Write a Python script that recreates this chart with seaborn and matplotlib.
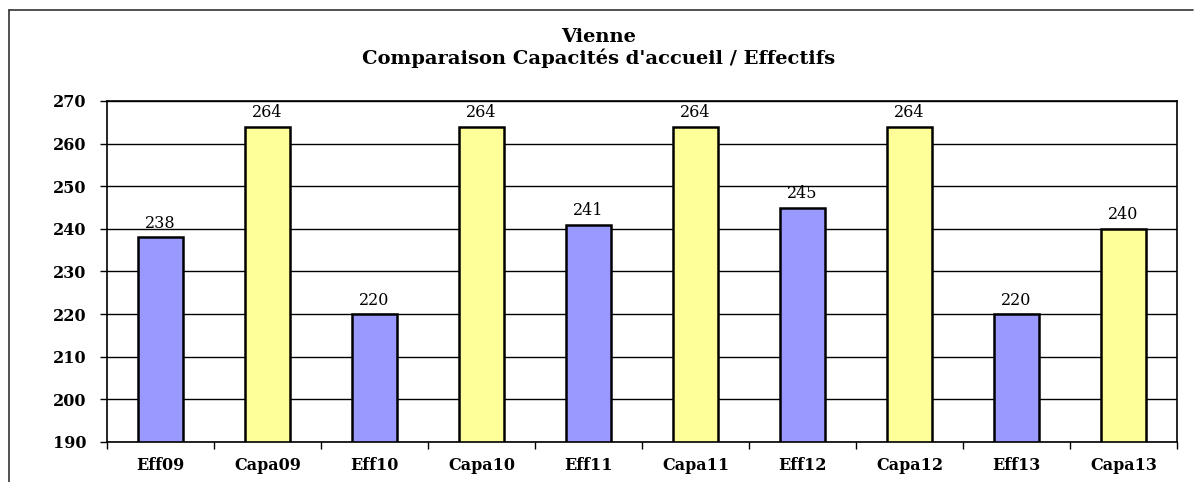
import pandas as pd
import matplotlib.pyplot as plt
import seaborn as sns
from matplotlib.lines import Line2D

# données
categories = ["Eff09", "Capa09", "Eff10", "Capa10", "Eff11", "Capa11", "Eff12", "Capa12", "Eff13", "Capa13"]
values = [238, 264, 220, 264, 241, 264, 245, 264, 220, 240]
kinds = ["Effectif", "Capacité"] * 5

df = pd.DataFrame({"cat": categories, "val": values, "kind": kinds})

sns.set_style("white")
plt.rcParams['font.family'] = ['DejaVu Serif', 'Liberation Serif']
plt.rcParams['text.color'] = 'black'
plt.rcParams['xtick.color'] = 'black'
plt.rcParams['ytick.color'] = 'black'

fig = plt.figure(figsize=(11.97, 4.82), dpi=100)
ax = fig.add_axes([107 / 1197, 40 / 482, 1070 / 1197, 341 / 482])

sns.barplot(data=df, x="cat", y="val", hue="kind", dodge=False, saturation=1,
            palette={"Effectif": "#9999FF", "Capacité": "#FFFF99"},
            edgecolor="black", linewidth=1.8, width=0.42, legend=False, ax=ax)

ax.set_ylim(190, 270)
ax.set_yticks(range(190, 271, 10))
ax.set_xlim(-0.5, 9.5)
ax.grid(axis="y", color="black", linewidth=1)
ax.set_axisbelow(True)
for s in ax.spines.values():
    s.set_color("black")
    s.set_linewidth(1.2)

# étiquettes de valeurs
for i, v in enumerate(values):
    ax.text(i, v + 1.3, str(v), ha="center", va="bottom", fontsize=11.5)

ax.set_xlabel("")
ax.set_ylabel("")
ax.tick_params(axis="y", left=True, length=5, width=1, pad=10, labelsize=11.5)
ax.set_xticks([x + 0.5 for x in range(-1, 10)], minor=True)
ax.tick_params(axis="x", which="major", bottom=False, length=0, pad=11, labelsize=11.5)
ax.tick_params(axis="x", which="minor", bottom=True, length=5, width=1)
for lab in ax.get_xticklabels() + ax.get_yticklabels():
    lab.set_fontweight("bold")

fig.text(0.5, 1 - 37 / 482, "Vienne", ha="center", va="center", fontsize=14, fontweight="bold")
fig.text(0.5, 1 - 58 / 482, "Comparaison Capacités d'accueil / Effectifs",
         ha="center", va="center", fontsize=14, fontweight="bold")

# cadre extérieur
fig.add_artist(Line2D([9 / 1197, 1193 / 1197], [1 - 10 / 482, 1 - 10 / 482],
                      transform=fig.transFigure, color="#333333", linewidth=1.2))
fig.add_artist(Line2D([9 / 1197, 9 / 1197], [0, 1 - 10 / 482],
                      transform=fig.transFigure, color="#333333", linewidth=1.2))

plt.savefig("out.png", dpi=100)
